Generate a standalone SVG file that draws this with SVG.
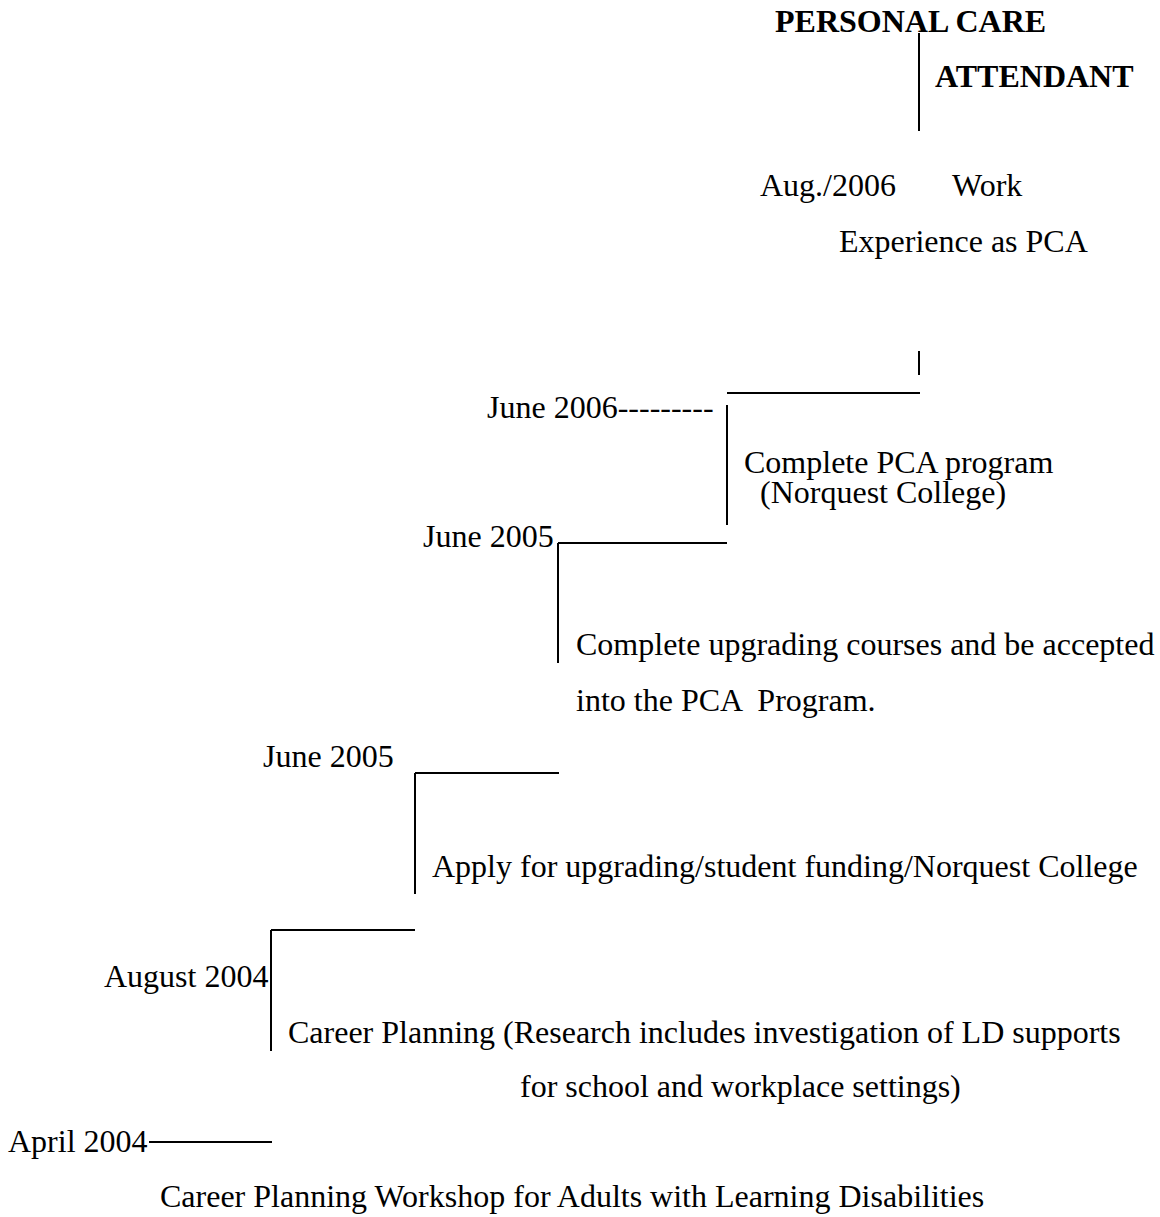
<svg xmlns="http://www.w3.org/2000/svg" width="1160" height="1217" viewBox="0 0 1160 1217">
<style>
text{font-family:"Liberation Serif","Times New Roman",serif;font-size:32px;fill:#000}
.b{font-weight:bold}
.pre{white-space:pre}
.ln{stroke:#000;stroke-width:2;fill:none}
</style>
<rect width="1160" height="1217" fill="#fff"/>
<g id="connectors">
<line class="ln" x1="919" y1="33" x2="919" y2="131"/>
<line class="ln" x1="919" y1="351" x2="919" y2="375"/>
<line class="ln" x1="727" y1="393" x2="920" y2="393"/>
<line class="ln" x1="727" y1="405" x2="727" y2="525"/>
<line class="ln" x1="558" y1="543" x2="727" y2="543"/>
<line class="ln" x1="558" y1="543" x2="558" y2="663"/>
<line class="ln" x1="415" y1="773" x2="559" y2="773"/>
<line class="ln" x1="415" y1="773" x2="415" y2="894"/>
<line class="ln" x1="271" y1="930" x2="415" y2="930"/>
<line class="ln" x1="271" y1="930" x2="271" y2="1051"/>
<line class="ln" x1="149" y1="1142" x2="272" y2="1142"/>
</g>
<g id="goal">
<text class="b" x="775" y="32">PERSONAL CARE</text>
<text class="b" x="935" y="87">ATTENDANT</text>
</g>
<g id="aug2006">
<text x="760" y="196">Aug./2006</text>
<text x="952" y="196">Work</text>
<text x="839" y="252">Experience as PCA</text>
</g>
<g id="june2006">
<text x="487" y="418">June 2006---------</text>
<text x="744" y="473">Complete PCA program</text>
<text x="760" y="503">(Norquest College)</text>
</g>
<g id="june2005a">
<text x="423" y="547">June 2005</text>
<text x="576" y="655">Complete upgrading courses and be accepted</text>
<text class="pre" x="576" y="711">into the PCA  Program.</text>
</g>
<g id="june2005b">
<text x="263" y="767">June 2005</text>
<text x="432" y="877">Apply for upgrading/student funding/Norquest College</text>
</g>
<g id="aug2004">
<text x="104" y="987">August 2004</text>
<text x="288" y="1043">Career Planning (Research includes investigation of LD supports</text>
<text x="520" y="1097">for school and workplace settings)</text>
</g>
<g id="apr2004">
<text x="8" y="1152">April 2004</text>
<text x="160" y="1207">Career Planning Workshop for Adults with Learning Disabilities</text>
</g>
</svg>
